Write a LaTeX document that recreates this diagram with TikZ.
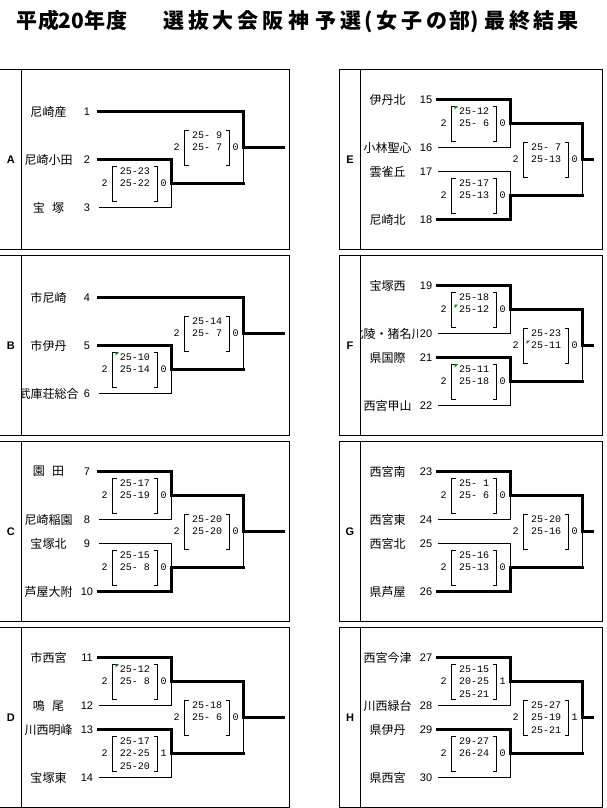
\documentclass[tikz,border=0pt]{standalone}
\usepackage{fontspec}
\newfontfamily\jpfont{Noto Sans CJK JP}
\newfontfamily\numfont{Liberation Sans}
\newfontfamily\scfont{Liberation Mono}
\usetikzlibrary{calc}
\definecolor{gmark}{RGB}{0,128,0}
\tikzset{
  border/.style={line width=1pt, draw=black},
  thk/.style={line width=3pt, line cap=rect},
  thn/.style={line width=1pt},
  brk/.style={line width=1pt},
  tname/.style={font=\jpfont\fontsize{12}{12}\selectfont, inner sep=0pt},
  tnum/.style={font=\numfont\fontsize{11}{11}\selectfont, inner sep=0pt},
  score/.style={font=\scfont\fontsize{10}{10}\selectfont, inner sep=0pt},
  setn/.style={score},
  plabel/.style={font=\numfont\bfseries\fontsize{11}{11}\selectfont, inner sep=0pt},
  ttl/.style={font=\jpfont\bfseries\fontsize{21}{21}\selectfont, inner sep=0pt, anchor=base},
}
% panel frame: #1 id, #2 letter, #3 xleft, #4 xdiv, #5 xright, #6 top, #7 label x
\newcommand\pnl[7]{%
  \draw[border] (#3,#6) rectangle (#5,#6+180);
  \draw[border] (#4,#6) -- (#4,#6+180);
  \node[plabel] (#1lab) at (#7,#6+90) {#2};
}
% team: #1 id, #2 name, #3 number, #4 xdiv, #5 y
\newcommand\tm[5]{%
  \begin{scope}
    \clip (#4,#5-9) rectangle (#4+57,#5+9);
    \node[tname] (#1n) at (#4+27,#5) {#2};
  \end{scope}
  \node[tnum] (#1k) at (#4+65.5,#5) {#3};
  \coordinate (#1) at (#4+77,#5);
}
% match: #1 id, #2 x, #3 y, #4 top in, #5 bottom in, #6-#9 styles
\newcommand\mt[9]{%
  \coordinate (#1) at (#2,#3);
  \draw[#6] (#4) -- (#4 -| #1);
  \draw[#8] (#5) -- (#5 -| #1);
  \draw[#9] (#5 -| #1) -- (#1);
  \draw[#7] (#4 -| #1) -- (#1);
}
% scores: #1 id, #2 left set, #3 right set, #4-#6 lines
\newcommand\msc[6]{%
  \node[setn] (#1L) at ([shift={(-67,0)}]#1) {#2};
  \node[setn] (#1R) at ([shift={(-8,0)}]#1) {#3};
  \draw[brk] ([shift={(-55,-17)}]#1) -- ++(-4,0) -- ++(0,35) -- ++(4,0);
  \draw[brk] ([shift={(-18,-17)}]#1) -- ++(4,0) -- ++(0,35) -- ++(-4,0);
  \node[score] (#1a) at ([shift={(-36.5,-12.5)}]#1) {#4};
  \node[score] (#1b) at ([shift={(-36.5,0)}]#1) {#5};
  \node[score] (#1c) at ([shift={(-36.5,12.5)}]#1) {#6};
}
% green comment mark: #1 id, #2 line offset
\newcommand\gm[2]{%
  \fill[gmark] ([shift={(-56,#2-5)}]#1) -- ++(3.5,0) -- ++(-3.5,3.5) -- cycle;
}
\newcommand\ph{\phantom{0}}
\begin{document}
\begin{tikzpicture}[x=1pt,y=-1pt]
\path[fill=white,use as bounding box] (0,0) rectangle (606,808);
% title
\foreach \c/\x [count=\i] in {平/27,成/48.5,2/65,0/78,年/95,度/116.5,選/174,抜/198.5,大/223,会/247.5,阪/273,神/299,予/326,選/351,女/387,子/412,の/437,部/460,最/495,終/520,結/543.5,果/568}
  \node[ttl] (ttl\i) at (\x,28.5) {\c};
\node[ttl] (ttlp) at (368.5,28.5) {(};
\node[ttl] (ttrp) at (475,28.5) {)};

% ===== Panel A =====
\pnl{A}{A}{-1}{21.5}{289.5}{69.5}{10.75}
\tm{A1}{尼崎産}{1}{21.5}{111.5}
\tm{A2}{尼崎小田}{2}{21.5}{159.5}
\tm{A3}{宝\hspace{.6em}塚}{3}{21.5}{207.5}
\mt{Am}{171.5}{183.5}{A2}{A3}{thk}{thk}{thn}{thn}
\msc{Am}{2}{0}{25-23}{25-22}{}
\mt{Af}{243.5}{147.5}{A1}{Am}{thk}{thk}{thk}{thn}
\msc{Af}{2}{0}{25-\ph9}{25-\ph7}{}
\coordinate (Aend) at (283.5,147.5);
\draw[thk] (Af) -- (Aend);

% ===== Panel B =====
\pnl{B}{B}{-1}{21.5}{289.5}{255.5}{10.75}
\tm{B4}{市尼崎}{4}{21.5}{297.5}
\tm{B5}{市伊丹}{5}{21.5}{345.5}
\tm{B6}{武庫荘総合}{6}{21.5}{393.5}
\mt{Bm}{171.5}{369.5}{B5}{B6}{thk}{thk}{thn}{thn}
\msc{Bm}{2}{0}{25-10}{25-14}{}
\gm{Bm}{-12.5}
\mt{Bf}{243.5}{333.5}{B4}{Bm}{thk}{thk}{thk}{thn}
\msc{Bf}{2}{0}{25-14}{25-\ph7}{}
\coordinate (Bend) at (283.5,333.5);
\draw[thk] (Bf) -- (Bend);

% ===== Panel C =====
\pnl{C}{C}{-1}{21.5}{289.5}{441.5}{10.75}
\tm{C7}{園\hspace{.6em}田}{7}{21.5}{471.5}
\tm{C8}{尼崎稲園}{8}{21.5}{519.5}
\tm{C9}{宝塚北}{9}{21.5}{543.5}
\tm{C10}{芦屋大附}{10}{21.5}{591.5}
\mt{Cm1}{171.5}{495.5}{C7}{C8}{thk}{thk}{thn}{thn}
\msc{Cm1}{2}{0}{25-17}{25-19}{}
\mt{Cm2}{171.5}{567.5}{C9}{C10}{thn}{thn}{thk}{thk}
\msc{Cm2}{2}{0}{25-15}{25-\ph8}{}
\mt{Cf}{243.5}{531.5}{Cm1}{Cm2}{thk}{thk}{thk}{thn}
\msc{Cf}{2}{0}{25-20}{25-20}{}
\coordinate (Cend) at (283.5,531.5);
\draw[thk] (Cf) -- (Cend);

% ===== Panel D =====
\pnl{D}{D}{-1}{21.5}{289.5}{627.5}{10.75}
\tm{D11}{市西宮}{11}{21.5}{657.5}
\tm{D12}{鳴\hspace{.6em}尾}{12}{21.5}{705.5}
\tm{D13}{川西明峰}{13}{21.5}{729.5}
\tm{D14}{宝塚東}{14}{21.5}{777.5}
\mt{Dm1}{171.5}{681.5}{D11}{D12}{thk}{thk}{thn}{thn}
\msc{Dm1}{2}{0}{25-12}{25-\ph8}{}
\gm{Dm1}{-12.5}
\mt{Dm2}{171.5}{753.5}{D13}{D14}{thk}{thk}{thn}{thn}
\msc{Dm2}{2}{1}{25-17}{22-25}{25-20}
\mt{Df}{243.5}{717.5}{Dm1}{Dm2}{thk}{thk}{thk}{thn}
\msc{Df}{2}{0}{25-18}{25-\ph6}{}
\coordinate (Dend) at (283.5,717.5);
\draw[thk] (Df) -- (Dend);

% ===== Panel E =====
\pnl{E}{E}{339.5}{360.5}{602.5}{69.5}{350}
\tm{E15}{伊丹北}{15}{360.5}{99.5}
\tm{E16}{小林聖心}{16}{360.5}{147.5}
\tm{E17}{雲雀丘}{17}{360.5}{171.5}
\tm{E18}{尼崎北}{18}{360.5}{219.5}
\mt{Em1}{510.5}{123.5}{E15}{E16}{thk}{thk}{thn}{thn}
\msc{Em1}{2}{0}{25-12}{25-\ph6}{}
\gm{Em1}{-12.5}
\mt{Em2}{510.5}{195.5}{E17}{E18}{thn}{thn}{thk}{thk}
\msc{Em2}{2}{0}{25-17}{25-13}{}
\mt{Ef}{582.5}{159.5}{Em1}{Em2}{thk}{thk}{thk}{thn}
\msc{Ef}{2}{0}{25-\ph7}{25-13}{}
\coordinate (Eend) at (592.5,159.5);
\draw[thk] (Ef) -- (Eend);

% ===== Panel F =====
\pnl{F}{F}{339.5}{360.5}{602.5}{255.5}{350}
\tm{F19}{宝塚西}{19}{360.5}{285.5}
\tm{F20}{北陵・猪名川}{20}{360.5}{333.5}
\tm{F21}{県国際}{21}{360.5}{357.5}
\tm{F22}{西宮甲山}{22}{360.5}{405.5}
\mt{Fm1}{510.5}{309.5}{F19}{F20}{thk}{thk}{thn}{thn}
\msc{Fm1}{2}{0}{25-18}{25-12}{}
\gm{Fm1}{0}
\mt{Fm2}{510.5}{381.5}{F21}{F22}{thk}{thk}{thn}{thn}
\msc{Fm2}{2}{0}{25-11}{25-18}{}
\gm{Fm2}{-12.5}
\mt{Ff}{582.5}{345.5}{Fm1}{Fm2}{thk}{thk}{thk}{thn}
\msc{Ff}{2}{0}{25-23}{25-11}{}
\gm{Ff}{0}
\coordinate (Fend) at (592.5,345.5);
\draw[thk] (Ff) -- (Fend);

% ===== Panel G =====
\pnl{G}{G}{339.5}{360.5}{602.5}{441.5}{350}
\tm{G23}{西宮南}{23}{360.5}{471.5}
\tm{G24}{西宮東}{24}{360.5}{519.5}
\tm{G25}{西宮北}{25}{360.5}{543.5}
\tm{G26}{県芦屋}{26}{360.5}{591.5}
\mt{Gm1}{510.5}{495.5}{G23}{G24}{thk}{thk}{thn}{thn}
\msc{Gm1}{2}{0}{25-\ph1}{25-\ph6}{}
\mt{Gm2}{510.5}{567.5}{G25}{G26}{thn}{thn}{thk}{thk}
\msc{Gm2}{2}{0}{25-16}{25-13}{}
\mt{Gf}{582.5}{531.5}{Gm1}{Gm2}{thk}{thk}{thk}{thn}
\msc{Gf}{2}{0}{25-20}{25-16}{}
\coordinate (Gend) at (592.5,531.5);
\draw[thk] (Gf) -- (Gend);

% ===== Panel H =====
\pnl{H}{H}{339.5}{360.5}{602.5}{627.5}{350}
\tm{H27}{西宮今津}{27}{360.5}{657.5}
\tm{H28}{川西緑台}{28}{360.5}{705.5}
\tm{H29}{県伊丹}{29}{360.5}{729.5}
\tm{H30}{県西宮}{30}{360.5}{777.5}
\mt{Hm1}{510.5}{681.5}{H27}{H28}{thk}{thk}{thn}{thn}
\msc{Hm1}{2}{1}{25-15}{20-25}{25-21}
\mt{Hm2}{510.5}{753.5}{H29}{H30}{thk}{thk}{thn}{thn}
\msc{Hm2}{2}{0}{29-27}{26-24}{}
\mt{Hf}{582.5}{717.5}{Hm1}{Hm2}{thk}{thk}{thk}{thn}
\msc{Hf}{2}{1}{25-27}{25-19}{25-21}
\coordinate (Hend) at (592.5,717.5);
\draw[thk] (Hf) -- (Hend);
\end{tikzpicture}
\end{document}
